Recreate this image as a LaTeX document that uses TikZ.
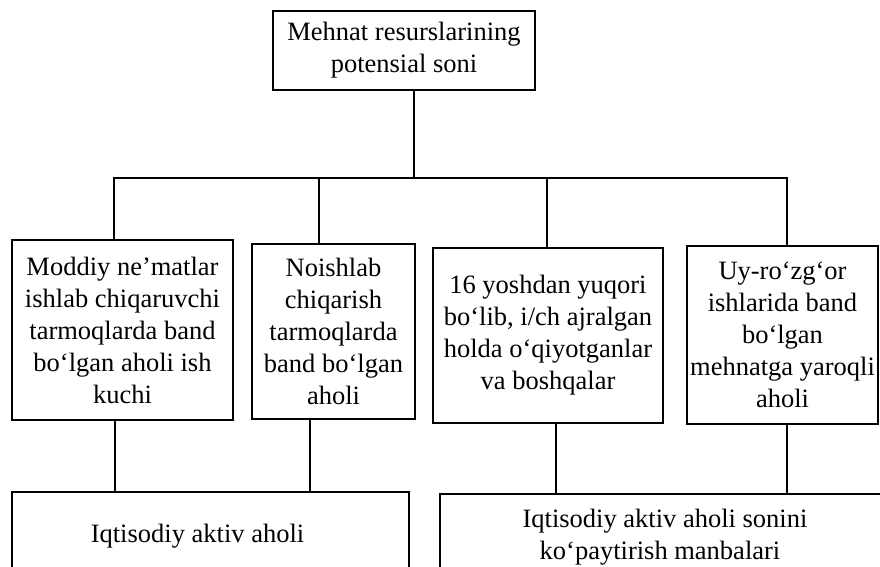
\documentclass[tikz,border=0pt]{standalone}
\usepackage{fontspec}
\setmainfont{Liberation Serif}
\begin{document}
\begin{tikzpicture}[x=1pt,y=-1pt,
  box/.style={draw=black,line width=2.4pt,inner sep=0pt,align=center,
    font=\fontsize{26.5}{32}\selectfont},
  conn/.style={draw=black,line width=2.4pt}]
\useasboundingbox (0,0) rectangle (880,566);
\clip (0,0) rectangle (880,566);
\fill[white] (0,0) rectangle (880,566);
% boxes
\node[box,minimum width=262pt,minimum height=79pt] (top) at (404,50.5)
  {Mehnat resurslarining\\potensial soni};
\node[box,minimum width=221pt,minimum height=180pt] (b1) at (122.5,330)
  {Moddiy ne’matlar\\ishlab chiqaruvchi\\tarmoqlarda band\\bo‘lgan aholi ish\\kuchi};
\node[box,minimum width=163pt,minimum height=175pt] (b2) at (333.5,331.5)
  {Noishlab\\chiqarish\\tarmoqlarda\\band bo‘lgan\\aholi};
\node[box,minimum width=230pt,minimum height=175pt] (b3) at (548,335.5)
  {16 yoshdan yuqori\\bo‘lib, i/ch ajralgan\\holda o‘qiyotganlar\\va boshqalar};
\node[box,minimum width=191pt,minimum height=178pt] (b4) at (782.5,335)
  {Uy-ro‘zg‘or\\ishlarida band\\bo‘lgan\\mehnatga yaroqli\\aholi};
\node[box,minimum width=397pt,minimum height=88pt] (bb1) at (210.5,536)
  {Iqtisodiy aktiv aholi\hspace*{26pt}};
\node[box,minimum width=450pt,minimum height=86pt] (bb2) at (665,537)
  {Iqtisodiy aktiv aholi sonini\\ko‘paytirish manbalari\hspace*{10pt}};
% junction coordinates
\coordinate (j) at (414,178);
\coordinate (h1) at (114,178);
\coordinate (h2) at (319,178);
\coordinate (h3) at (547,178);
\coordinate (h4) at (787,178);
\coordinate (l1) at (115,0);
\coordinate (l2) at (310,0);
\coordinate (l3) at (556,0);
\coordinate (l4) at (787,0);
% connectors
\draw[conn] (top.south -| j) -- (j);
\draw[conn,line cap=rect] (h1) -- (h4);
\draw[conn] (h1) -- (h1 |- b1.north);
\draw[conn] (h2) -- (h2 |- b2.north);
\draw[conn] (h3) -- (h3 |- b3.north);
\draw[conn] (h4) -- (h4 |- b4.north);
\draw[conn] (b1.south -| l1) -- (l1 |- bb1.north);
\draw[conn] (b2.south -| l2) -- (l2 |- bb1.north);
\draw[conn] (b3.south -| l3) -- (l3 |- bb2.north);
\draw[conn] (b4.south -| l4) -- (l4 |- bb2.north);
\end{tikzpicture}
\end{document}
